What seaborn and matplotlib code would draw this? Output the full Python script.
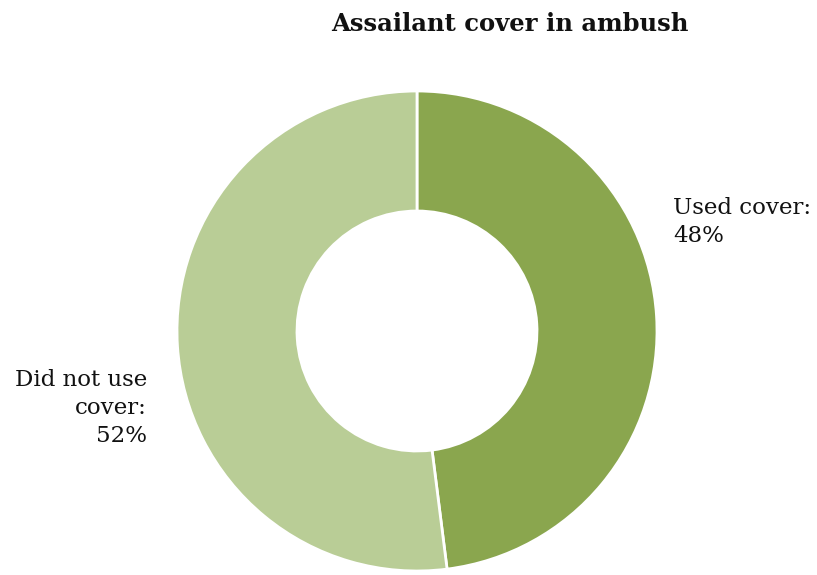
import matplotlib
matplotlib.use("Agg")
import matplotlib.pyplot as plt
import seaborn as sns

# Survey shares for assailant cover
categories = ["Used cover", "Did not use cover"]
shares = [48, 52]
label_texts = ["Used cover:\n48%", "Did not use\ncover:\n52%"]
colors = ["#8AA64E", "#B9CD96"]

sns.set_theme(style="white")
plt.rcParams["font.family"] = ["DejaVu Serif"]

W, H = 817, 575
fig = plt.figure(figsize=(W / 100, H / 100), dpi=100)
cx, cy, r = 417, 331, 240
ax = fig.add_axes([(cx - r) / W, (H - cy - r) / H, 2 * r / W, 2 * r / H])

wedges, _ = ax.pie(
    shares,
    colors=colors,
    startangle=90,
    counterclock=False,
    radius=1.0,
    wedgeprops=dict(width=0.5, edgecolor="white", linewidth=2),
)
ax.set_xlim(-1, 1)
ax.set_ylim(-1, 1)
ax.set_aspect("equal")
ax.axis("off")

ax.text(1.067, 0.454, label_texts[0], ha="left", va="center",
        fontsize=16.5, linespacing=1.35, color="#111111", clip_on=False)
ax.text(-1.125, -0.32, label_texts[1], ha="right", va="center",
        fontsize=16.5, linespacing=1.35, color="#111111", clip_on=False,
        multialignment="right")

fig.text(510 / W, 1 - 24 / H, "Assailant cover in ambush", ha="center",
         va="center", fontsize=17.5, fontweight="bold", color="#111111")

fig.savefig("out.png", dpi=100)
